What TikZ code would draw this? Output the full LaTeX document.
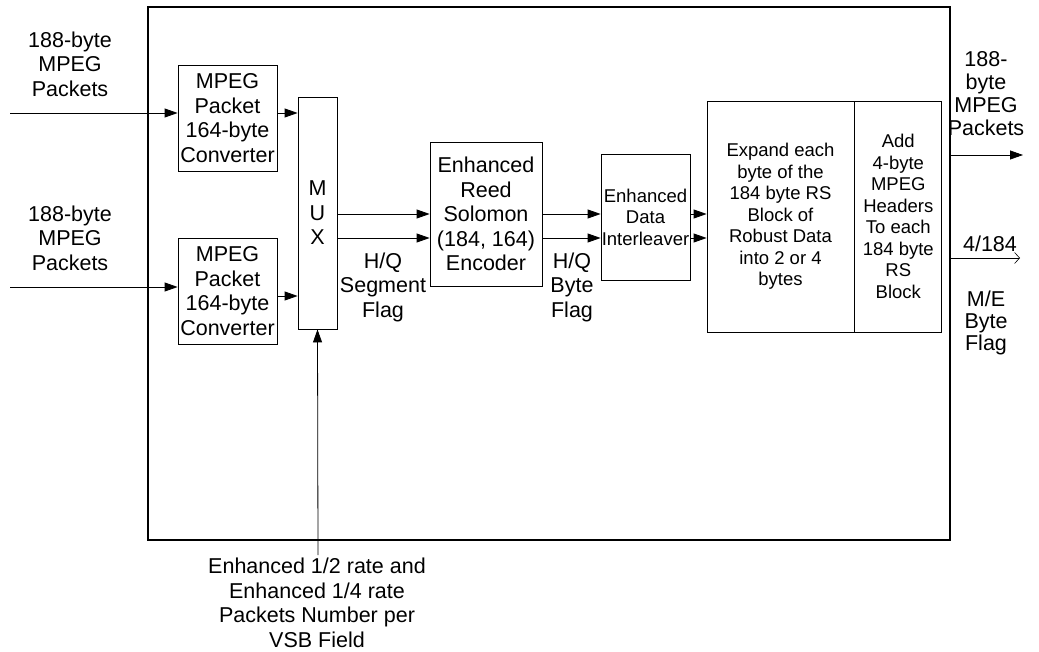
\documentclass[tikz,border=0pt]{standalone}
\usepackage{fontspec}
\setmainfont{Liberation Sans}
\usepackage{tikz}
\usetikzlibrary{arrows.meta, positioning, calc}
\tikzset{
	txt/.style      ={align=center, inner sep=0pt, font=\fontsize{21.5}{24.5}\selectfont},
	smalltxt/.style ={align=center, inner sep=0pt, font=\fontsize{18.5}{21.5}\selectfont},
	% block diagram styles
	blk/.style      ={rectangle, draw=black, line width=0.8pt, inner sep=0pt, txt},
	frame/.style    ={rectangle, draw=black, line width=2pt, inner sep=0pt},
	sig/.style      ={-{Triangle[length=13pt, width=9pt]}, line width=0.8pt},
	flagsig/.style  ={-{Straight Barb[length=5pt, width=11pt]}, line width=0.6pt},
}
\begin{document}
\begin{tikzpicture}[x=1pt, y=-1pt]
	\useasboundingbox (0,0) rectangle (1039,652);
	\node[frame, minimum width=802, minimum height=533] (sys) at (549,273.5) {};
	% input side
	\node[blk, minimum width=99, minimum height=106] (convA) at (227.5,118) {MPEG\\ Packet\\ 164-byte\\ Converter};
	\node[blk, minimum width=99, minimum height=106] (convB) at (227.5,291) {MPEG\\ Packet\\ 164-byte\\ Converter};
	\node[blk, minimum width=39, minimum height=232] (mux) at (317.5,213) {M\\ U\\ X};
	\node[blk, minimum width=112, minimum height=144] (rs) at (486,214) {Enhanced\\ Reed\\ Solomon\\ (184, 164)\\ Encoder};
	\node[blk, smalltxt, minimum width=89, minimum height=126] (intl) at (645.5,217) {Enhanced\\ Data\\ Interleaver};
	\node[blk, smalltxt, minimum width=147, minimum height=231] (expand) at (780.5,216.5) {Expand each\\ byte of the\\ 184 byte RS\\ Block of\\ Robust Data\\ into 2 or 4\\ bytes};
	\node[blk, smalltxt, minimum width=87, minimum height=231, right=0pt of expand] (hdr) {Add\\ 4-byte\\ MPEG\\ Headers\\ To each\\ 184 byte\\ RS\\ Block};
	% labels
	\node[txt] (inAlbl) at (70,64) {188-byte\\ MPEG\\ Packets};
	\node[txt] (inBlbl) at (70,238) {188-byte\\ MPEG\\ Packets};
	\node[txt] (seglbl) at (383,287) {H/Q\\ Segment\\ Flag};
	\node[txt] (bytelbl) at (572,287) {H/Q\\ Byte\\ Flag};
	\node[txt, font=\fontsize{21.5}{23}\selectfont] (outlbl) at (986,94) {188-\\ byte\\ MPEG\\ Packets};
	\node[txt] (ratelbl) at (990,244) {4/184};
	\node[txt, font=\fontsize{21.5}{22}\selectfont] (melbl) at (986,323) {M/E\\ Byte\\ Flag};
	\node[txt] (vsblbl) at (317,603) {Enhanced 1/2 rate and\\ Enhanced 1/4 rate\\ Packets Number per\\ VSB Field};
	% free ends
	\coordinate (inA) at (10,113);
	\coordinate (inB) at (10,287);
	\coordinate (muxB) at (0,296);
	\coordinate (lnA) at (0,214);
	\coordinate (lnB) at (0,238);
	\coordinate (outA) at (1023,155);
	\coordinate (outB) at (1020,258);
	\coordinate (vsb) at (318,555);
	% connectors
	\draw[sig] (inA) -- (inA -| convA.west);
	\draw[sig] (inB) -- (inB -| convB.west);
	\draw[sig] (convA.east |- inA) -- (mux.west |- inA);
	\draw[sig] (convB.east |- muxB) -- (mux.west |- muxB);
	\draw[sig] (mux.east |- lnA) -- (rs.west |- lnA);
	\draw[sig] (mux.east |- lnB) -- (rs.west |- lnB);
	\draw[sig] (rs.east |- lnA) -- (intl.west |- lnA);
	\draw[sig] (rs.east |- lnB) -- (intl.west |- lnB);
	\draw[sig] (intl.east |- lnA) -- (expand.west |- lnA);
	\draw[sig] (intl.east |- lnB) -- (expand.west |- lnB);
	\draw[sig] (sys.east |- outA) -- (outA);
	\draw[flagsig] (sys.east |- outB) -- (outB);
	\draw[sig] (vsb) -- (mux.south);
\end{tikzpicture}
\end{document}
